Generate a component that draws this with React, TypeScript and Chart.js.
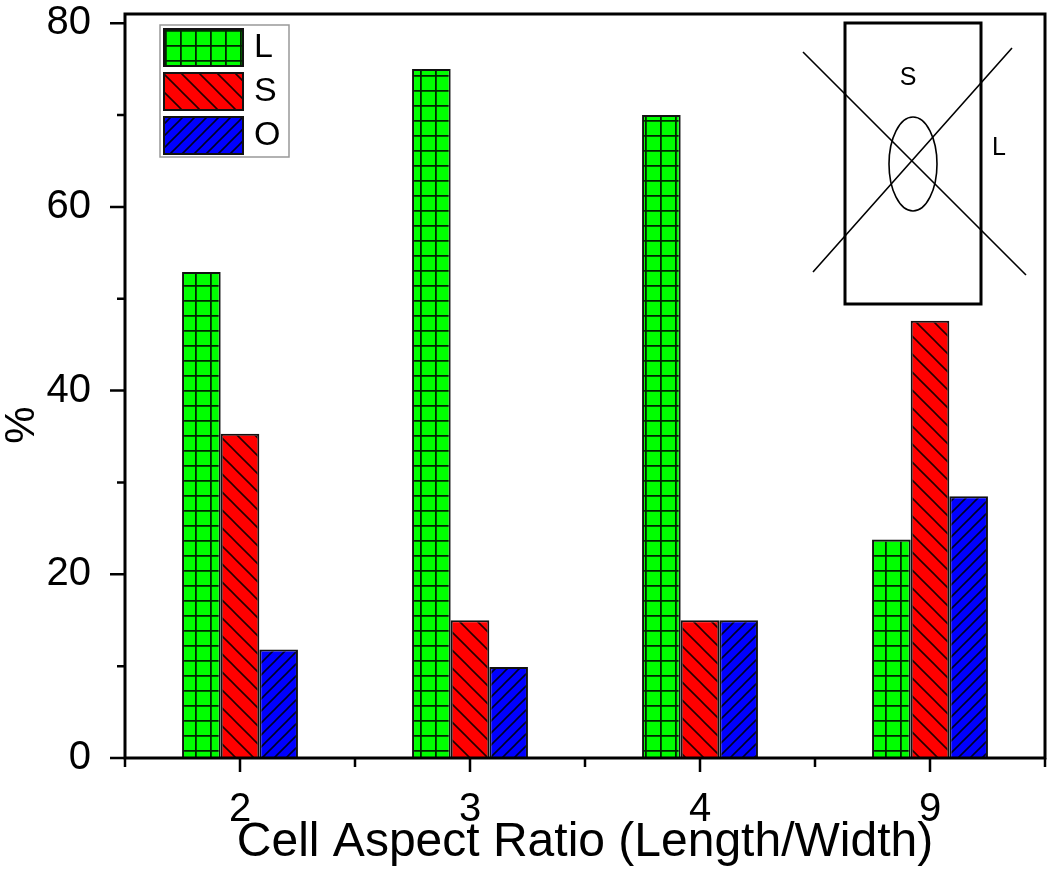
import { useEffect, useRef } from 'react';
import { Chart, registerables } from 'chart.js';

Chart.register(...registerables);

// ---- data ----
const categories = ['2', '3', '4', '9'];
const seriesNames = ['L', 'S', 'O'];
const lValues = [52.9, 75.0, 70.0, 23.8];
const sValues = [35.3, 15.0, 15.0, 47.6];
const oValues = [11.8, 9.9, 15.0, 28.5];
const yMajorTicks = [0, 20, 40, 60, 80];
const yMinorTicks = [10, 30, 50, 70];
const xTitle = 'Cell Aspect Ratio (Length/Width)';
const yTitle = '%';

const FONT = "'Liberation Sans', Arial, Helvetica, sans-serif";

function makePattern(kind: 'grid' | 'back' | 'fwd'): CanvasPattern | string {
  const c = document.createElement('canvas');
  const size = kind === 'grid' ? 15 : kind === 'back' ? 18 : 12;
  c.width = size;
  c.height = size;
  const g = c.getContext('2d');
  if (!g) return '#888';
  g.fillStyle = kind === 'grid' ? '#00ff00' : kind === 'back' ? '#ff0000' : '#0000ff';
  g.fillRect(0, 0, size, size);
  g.strokeStyle = 'rgba(0,0,0,0.85)';
  g.lineWidth = kind === 'grid' ? 1.8 : 1.6;
  g.beginPath();
  if (kind === 'grid') {
    g.moveTo(0.9, 0);
    g.lineTo(0.9, size);
    g.moveTo(0, 0.9);
    g.lineTo(size, 0.9);
  } else if (kind === 'back') {
    for (const k of [-size, 0, size]) {
      g.moveTo(-2, -2 + k);
      g.lineTo(size + 2, size + 2 + k);
    }
  } else {
    for (const k of [-size, 0, size]) {
      g.moveTo(-2, size + 2 + k);
      g.lineTo(size + 2, -2 + k);
    }
  }
  g.stroke();
  const ctx = document.createElement('canvas').getContext('2d');
  const p = ctx ? ctx.createPattern(c, 'repeat') : null;
  return p || '#888';
}

const decorPlugin = {
  id: 'decor',
  afterDatasetsDraw(chart: any) {
    const { ctx, chartArea: a, scales } = chart;
    const x = scales.x;
    const y = scales.y;
    ctx.save();
    // frame
    ctx.strokeStyle = '#000';
    ctx.lineWidth = 3;
    ctx.strokeRect(a.left, a.top, a.right - a.left, a.bottom - a.top);
    // ticks
    ctx.lineWidth = 2.5;
    ctx.beginPath();
    yMajorTicks.forEach((v) => {
      const p = y.getPixelForValue(v);
      ctx.moveTo(a.left - 15, p);
      ctx.lineTo(a.left, p);
    });
    yMinorTicks.forEach((v) => {
      const p = y.getPixelForValue(v);
      ctx.moveTo(a.left - 8, p);
      ctx.lineTo(a.left, p);
    });
    categories.forEach((_c, i) => {
      const p = x.getPixelForValue(i);
      ctx.moveTo(p, a.bottom);
      ctx.lineTo(p, a.bottom + 14);
    });
    for (let i = 0; i <= categories.length; i++) {
      const p = x.getPixelForValue(i - 0.5);
      ctx.moveTo(p, a.bottom);
      ctx.lineTo(p, a.bottom + 9);
    }
    ctx.stroke();

    // y title
    ctx.save();
    ctx.translate(22, 425);
    ctx.rotate(-Math.PI / 2);
    ctx.fillStyle = '#000';
    ctx.font = `42px ${FONT}`;
    ctx.textAlign = 'center';
    ctx.textBaseline = 'middle';
    ctx.fillText(yTitle, 0, 0);
    ctx.restore();

    // legend
    ctx.strokeStyle = '#999';
    ctx.lineWidth = 1.5;
    ctx.strokeRect(160, 25, 129, 132);
    const tops = [29, 73, 117];
    chart.data.datasets.forEach((ds: any, i: number) => {
      ctx.fillStyle = ds.backgroundColor;
      ctx.fillRect(164, tops[i], 79, 37);
      ctx.strokeStyle = '#111';
      ctx.lineWidth = 2;
      ctx.strokeRect(164, tops[i], 79, 37);
      ctx.fillStyle = '#000';
      ctx.font = `34px ${FONT}`;
      ctx.textAlign = 'left';
      ctx.textBaseline = 'middle';
      ctx.fillText(ds.label, 254, tops[i] + 19);
    });

    // inset sketch
    ctx.strokeStyle = '#000';
    ctx.lineWidth = 3;
    ctx.strokeRect(845, 23, 136, 281);
    ctx.lineWidth = 1.6;
    ctx.beginPath();
    ctx.moveTo(803, 52);
    ctx.lineTo(1026, 275);
    ctx.moveTo(813, 272);
    ctx.lineTo(1012, 48);
    ctx.stroke();
    ctx.beginPath();
    ctx.ellipse(913, 164, 24, 47, 0, 0, Math.PI * 2);
    ctx.stroke();
    ctx.fillStyle = '#000';
    ctx.font = `25px ${FONT}`;
    ctx.textAlign = 'center';
    ctx.textBaseline = 'middle';
    ctx.fillText('S', 908, 78);
    ctx.fillText('L', 999, 148);
    ctx.restore();
  },
};

export default function App() {
  const ref = useRef<HTMLCanvasElement | null>(null);

  useEffect(() => {
    document.body.style.margin = '0';
    const canvas = ref.current;
    if (!canvas) return;
    const patterns = [makePattern('grid'), makePattern('back'), makePattern('fwd')];
    const values = [lValues, sValues, oValues];
    const chart = new Chart(canvas, {
      type: 'bar',
      data: {
        labels: categories,
        datasets: seriesNames.map((name, i) => ({
          label: name,
          data: values[i],
          backgroundColor: patterns[i] as any,
          borderColor: '#111',
          borderWidth: 2,
          categoryPercentage: 0.504,
          barPercentage: 1,
        })),
      },
      options: {
        animation: false,
        responsive: false,
        devicePixelRatio: 1,
        layout: { padding: { top: 14, right: 5, left: 0, bottom: 0 } },
        plugins: {
          legend: { display: false },
          tooltip: { enabled: false },
        },
        scales: {
          x: {
            type: 'category',
            offset: true,
            grid: { display: false },
            border: { display: false },
            ticks: { color: '#000', padding: 20, font: { family: FONT, size: 40 } },
            title: {
              display: true,
              text: xTitle,
              color: '#000',
              padding: { top: 0, bottom: 1 },
              font: { family: FONT, size: 48 },
            },
            afterFit: (s: any) => {
              s.height = 115;
              s.paddingLeft = 0;
              s.paddingRight = 0;
              s.paddingTop = 0;
              s.paddingBottom = 0;
            },
          },
          y: {
            type: 'linear',
            min: 0,
            max: 81,
            grid: { display: false },
            border: { display: false },
            ticks: { color: '#000', padding: 26, font: { family: FONT, size: 40 } },
            afterBuildTicks: (s: any) => {
              s.ticks = yMajorTicks.map((v) => ({ value: v }));
            },
            afterFit: (s: any) => {
              s.width = 125;
              s.paddingLeft = 0;
              s.paddingRight = 0;
              s.paddingTop = 0;
              s.paddingBottom = 0;
            },
          },
        },
      },
      plugins: [decorPlugin],
    });
    return () => chart.destroy();
  }, []);

  return (
    <div style={{ position: 'absolute', left: 0, top: 0, width: 1050, height: 873, background: '#fff' }}>
      <canvas ref={ref} width={1050} height={873} style={{ width: 1050, height: 873, display: 'block' }} />
    </div>
  );
}
